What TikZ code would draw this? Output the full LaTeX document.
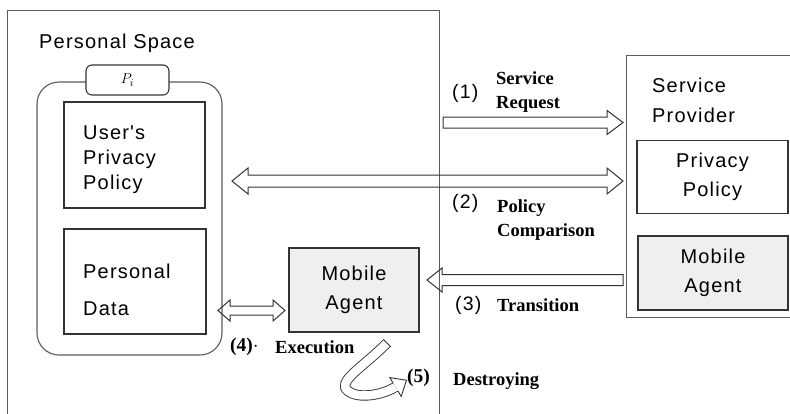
\documentclass[tikz,border=0pt]{standalone}
\usepackage{fontspec}
\setmainfont{Liberation Serif}
\newfontfamily\gulim[LetterSpace=6]{Liberation Sans}
\usepackage{xcolor}
\usetikzlibrary{calc}

\definecolor{edgegray}{HTML}{333333}
\definecolor{framegray}{HTML}{5A5A5A}
\definecolor{agentfill}{HTML}{EFEFEF}

\tikzset{
  hshaft/.store in=\hshaft, hshaft=5.5pt,
  hwing/.store in=\hwing, hwing=12pt,
  hhead/.store in=\hhead, hhead=16pt,
  % hollow block arrow, tip at the target
  hollow/.style={to path={
    ($(\tikztostart)!\hshaft!90:(\tikztotarget)$)
    -- ($($(\tikztotarget)!\hhead!(\tikztostart)$)!\hshaft!90:(\tikztotarget)$)
    -- ($($(\tikztotarget)!\hhead!(\tikztostart)$)!\hwing!90:(\tikztotarget)$)
    -- (\tikztotarget)
    -- ($($(\tikztotarget)!\hhead!(\tikztostart)$)!\hwing!-90:(\tikztotarget)$)
    -- ($($(\tikztotarget)!\hhead!(\tikztostart)$)!\hshaft!-90:(\tikztotarget)$)
    -- ($(\tikztostart)!\hshaft!-90:(\tikztotarget)$) -- cycle}},
  % hollow block arrow, tips at both ends
  hollowboth/.style={to path={
    (\tikztostart)
    -- ($($(\tikztostart)!\hhead!(\tikztotarget)$)!\hwing!90:(\tikztotarget)$)
    -- ($($(\tikztostart)!\hhead!(\tikztotarget)$)!\hshaft!90:(\tikztotarget)$)
    -- ($($(\tikztotarget)!\hhead!(\tikztostart)$)!\hshaft!90:(\tikztotarget)$)
    -- ($($(\tikztotarget)!\hhead!(\tikztostart)$)!\hwing!90:(\tikztotarget)$)
    -- (\tikztotarget)
    -- ($($(\tikztotarget)!\hhead!(\tikztostart)$)!\hwing!-90:(\tikztotarget)$)
    -- ($($(\tikztotarget)!\hhead!(\tikztostart)$)!\hshaft!-90:(\tikztotarget)$)
    -- ($($(\tikztostart)!\hhead!(\tikztotarget)$)!\hshaft!-90:(\tikztotarget)$)
    -- ($($(\tikztostart)!\hhead!(\tikztotarget)$)!\hwing!-90:(\tikztotarget)$)
    -- cycle}},
  sans/.style={font=\gulim\fontsize{20}{25}\selectfont},
  stepno/.style={font=\gulim\fontsize{19.5}{23}\selectfont, anchor=west, inner sep=0pt},
  steptxt/.style={font=\bfseries\fontsize{18.5}{24}\selectfont, align=left, anchor=west, inner sep=0pt},
  frame/.style={draw=framegray, line width=1.4pt, rectangle, anchor=north west},
  box/.style={draw=edgegray, line width=1.2pt, rectangle, sans, align=center},
  agent/.style={box, fill=agentfill, font=\gulim\fontsize{20}{29}\selectfont},
}

\begin{document}
\begin{tikzpicture}[x=1pt, y=-1pt]
  \useasboundingbox (0,0) rectangle (790,413);

  % personal space
  \node[frame, minimum width=432pt, minimum height=430pt] (pspace) at (7,10) {};
  \node[sans, anchor=west, inner sep=0pt] (pslabel) at (39,43) {Personal Space};
  \node[draw=framegray, line width=1.1pt, rounded corners=22pt, minimum width=185pt, minimum height=273pt] (pool) at (129.5,218.5) {};
  \node[draw=edgegray, line width=1.1pt, fill=white, rounded corners=6pt, minimum width=83pt, minimum height=30pt] (ptab) at (127.5,80) {\fontsize{15}{15}\selectfont$P_i$};

  \node[box, minimum width=141pt, minimum height=106pt] (upp) at (134.5,155) {};
  \node[sans, align=left, anchor=west, inner sep=0pt] (upptext) at (83,160) {User's\\Privacy\\Policy};
  \node[box, minimum width=142pt, minimum height=105pt] (pd) at (135,281.5) {};
  \node[sans, align=left, anchor=west, inner sep=0pt] (pdtext) at (83,290) {Personal\\[12pt]Data};
  \node[agent, minimum width=130pt, minimum height=84pt] (ma) at (354,290) {Mobile\\Agent};

  % service provider
  \node[frame, minimum width=180pt, minimum height=262pt] (spbox) at (626,55) {};
  \node[sans, align=left, anchor=north west, inner sep=0pt, font=\gulim\fontsize{20}{30}\selectfont] (sptext) at (652,78) {Service\\Provider};
  \node[box, minimum width=151pt, minimum height=73pt, font=\gulim\fontsize{20}{29}\selectfont] (spp) at (712.5,177) {Privacy\\Policy};
  \node[agent, minimum width=150pt, minimum height=74pt] (spma) at (713,273) {Mobile\\Agent};

  % arrow ends
  \coordinate (req1) at (443,122.5);
  \coordinate (req2) at (623,122.5);
  \coordinate (cmp1) at (232,181);
  \coordinate (cmp2) at (623,181);
  \coordinate (tr1) at (623,280);
  \coordinate (tr2) at (427,280);
  \coordinate (ex1) at (218,310.5);
  \coordinate (ex2) at (285,310.5);

  \draw[edgegray, line width=1pt, hollow] (req1) to (req2);
  \draw[edgegray, line width=1pt, hollowboth, hshaft=6pt, hwing=13pt] (cmp1) to (cmp2);
  \draw[edgegray, line width=1pt, hollow, hhead=15pt] (tr1) to (tr2);
  \draw[edgegray, line width=1pt, hollowboth, hshaft=4.5pt, hwing=10.5pt, hhead=12pt] (ex1) to (ex2);

  % destroying: curved band
  \draw[edgegray, line width=0.9pt, double, double distance=8.5pt] (387,343) .. controls (362,368) and (336,382) .. (348,391) .. controls (358,399) and (381,395.5) .. (395.5,387);
  \draw[edgegray, line width=0.9pt] (383.5,339.5) -- (390.5,346.5);
  \draw[edgegray, line width=0.9pt] (392.9,382.7) -- (389.8,377.6) -- (406.5,380.2) -- (401.2,396.4) -- (398.1,391.3);

  % step labels
  \node[stepno] (n1) at (452,93) {(1)};
  \node[steptxt] (t1) at (496,92) {Service\\Request};
  \node[stepno] (n2) at (452,203) {(2)};
  \node[steptxt] (t2) at (497,220) {Policy\\Comparison};
  \node[stepno] (n3) at (455,305) {(3)};
  \node[steptxt] (t3) at (497,305) {Transition};
  \node[steptxt, font=\bfseries\fontsize{19.5}{24}\selectfont] (n4) at (230,347) {(4)$\cdot$};
  \node[steptxt] (t4) at (275,347) {Execution};
  \node[steptxt, font=\bfseries\fontsize{19.5}{24}\selectfont] (n5) at (407,378) {(5)};
  \node[steptxt] (t5) at (453,381) {Destroying};
\end{tikzpicture}
\end{document}
